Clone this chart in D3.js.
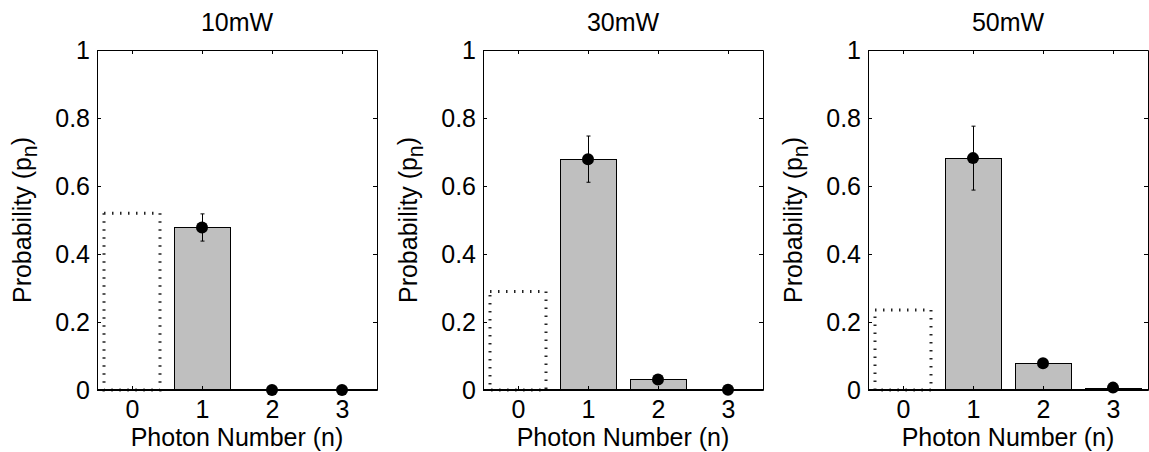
<!DOCTYPE html>
<html>
<head>
<meta charset="utf-8">
<script src="https://cdn.jsdelivr.net/npm/d3@7"></script>
<style>
  body { margin: 0; background: #fff; }
  svg { display: block; }
  text { font-family: "Liberation Sans", Arial, Helvetica, sans-serif; fill: #000; }
</style>
</head>
<body>
<svg id="chart" width="1149" height="452"></svg>
<script>
// data
const panelTitles = ["10mW", "30mW", "50mW"];
const photonNumbers = [0, 1, 2, 3];
const barNumbers = [1, 2, 3];
const vacuumLevels = [0.52, 0.29, 0.235];   // dotted outline at n = 0
const probs10 = [0.478, 0.0, 0.0];           // n = 1, 2, 3
const probs30 = [0.679, 0.031, 0.001];
const probs50 = [0.682, 0.079, 0.007];
const err10 = [0.04, 0, 0];
const err30 = [0.068, 0, 0];
const err50 = [0.094, 0, 0];
const yTicks = [0, 0.2, 0.4, 0.6, 0.8, 1];

const allProbs = [probs10, probs30, probs50];
const allErrs = [err10, err30, err50];

// layout
const panelLefts = [97, 483, 868];
const panelWidth = 280;
const plotTop = 50, plotBottom = 390;
const fontSize = 25;

const svg = d3.select("#chart");

panelTitles.forEach((title, i) => {
    const left = panelLefts[i];
    const right = left + panelWidth;
    const cx = (left + right) / 2;

    const x = d3.scaleLinear().domain([-0.5, 3.5]).range([left, right]);
    const y = d3.scaleLinear().domain([0, 1]).range([plotBottom, plotTop]);
    const g = svg.append("g");

    // dotted n=0 bar
    g.append("rect")
        .attr("x", x(-0.4))
        .attr("y", y(vacuumLevels[i]))
        .attr("width", x(0.4) - x(-0.4))
        .attr("height", y(0) - y(vacuumLevels[i]))
        .attr("fill", "none")
        .attr("stroke", "#222")
        .attr("stroke-width", 3)
        .attr("stroke-dasharray", "1.5 6.5");

    // grey bars
    const probs = allProbs[i];
    g.selectAll(".bar")
        .data(barNumbers)
        .enter().append("rect")
        .attr("class", "bar")
        .attr("x", n => x(n - 0.4) + 0.5)
        .attr("y", (n, k) => Math.round(y(probs[k])) + 0.5)
        .attr("width", x(0.8) - x(0))
        .attr("height", (n, k) => Math.max(0, Math.round(y(0)) - Math.round(y(probs[k]))))
        .attr("fill", "#bfbfbf")
        .attr("stroke", "#000")
        .attr("stroke-width", 1);

    // axes: box with inward ticks
    g.append("g").attr("transform", `translate(${left},0)`)
        .call(d3.axisLeft(y).tickValues(yTicks).tickFormat(d => String(d))
              .tickSizeInner(-4).tickSizeOuter(0).tickPadding(7));
    g.append("g").attr("transform", `translate(${right},0)`)
        .call(d3.axisRight(y).tickValues(yTicks).tickFormat("")
              .tickSizeInner(-4).tickSizeOuter(0));
    g.append("g").attr("transform", `translate(0,${plotBottom})`)
        .call(d3.axisBottom(x).tickValues(photonNumbers).tickFormat(d => String(d))
              .tickSizeInner(-4).tickSizeOuter(0).tickPadding(10));
    g.append("g").attr("transform", `translate(0,${plotTop})`)
        .call(d3.axisTop(x).tickValues(photonNumbers).tickFormat("")
              .tickSizeInner(-4).tickSizeOuter(0));
    g.selectAll("g").attr("font-family", null).attr("font-size", null);
    g.selectAll(".tick text").attr("font-size", fontSize);
    g.selectAll(".domain").attr("stroke", "#000");
    g.selectAll(".tick line").attr("stroke", "#000");

    // bar baseline
    g.append("line")
        .attr("x1", left).attr("x2", right)
        .attr("y1", y(0) - 0.5).attr("y2", y(0) - 0.5)
        .attr("stroke", "#000").attr("stroke-width", 1.2);

    // error bars
    const errs = allErrs[i];
    barNumbers.forEach((n, k) => {
        if (errs[k] <= 0) return;
        const xc = Math.round(x(n)) + 0.5;
        const y1 = y(probs[k] + errs[k]), y2 = y(probs[k] - errs[k]);
        g.append("line").attr("x1", xc).attr("x2", xc).attr("y1", y1).attr("y2", y2)
            .attr("stroke", "#000").attr("stroke-width", 1);
        [y1, y2].forEach(yy => {
            g.append("line").attr("x1", xc - 2).attr("x2", xc + 2)
                .attr("y1", yy).attr("y2", yy)
                .attr("stroke", "#000").attr("stroke-width", 1);
        });
    });

    // measured points
    g.selectAll(".dot")
        .data(barNumbers)
        .enter().append("circle")
        .attr("class", "dot")
        .attr("cx", n => x(n))
        .attr("cy", (n, k) => y(probs[k]))
        .attr("r", 6)
        .attr("fill", "#000");

    // title
    g.append("text")
        .attr("x", cx).attr("y", 31)
        .attr("text-anchor", "middle")
        .attr("font-size", fontSize)
        .text(title);

    // x label
    g.append("text")
        .attr("x", cx).attr("y", 446)
        .attr("text-anchor", "middle")
        .attr("font-size", fontSize)
        .text("Photon Number (n)");

    // y label
    const yl = g.append("text")
        .attr("transform", `translate(${left - 66},${(plotTop + plotBottom) / 2}) rotate(-90)`)
        .attr("text-anchor", "middle")
        .attr("font-size", fontSize);
    yl.append("tspan").text("Probability (p");
    yl.append("tspan").attr("dy", "0.3em").attr("font-size", "85%").text("n");
    yl.append("tspan").attr("dy", "-0.3em").text(")");
});
</script>
</body>
</html>
